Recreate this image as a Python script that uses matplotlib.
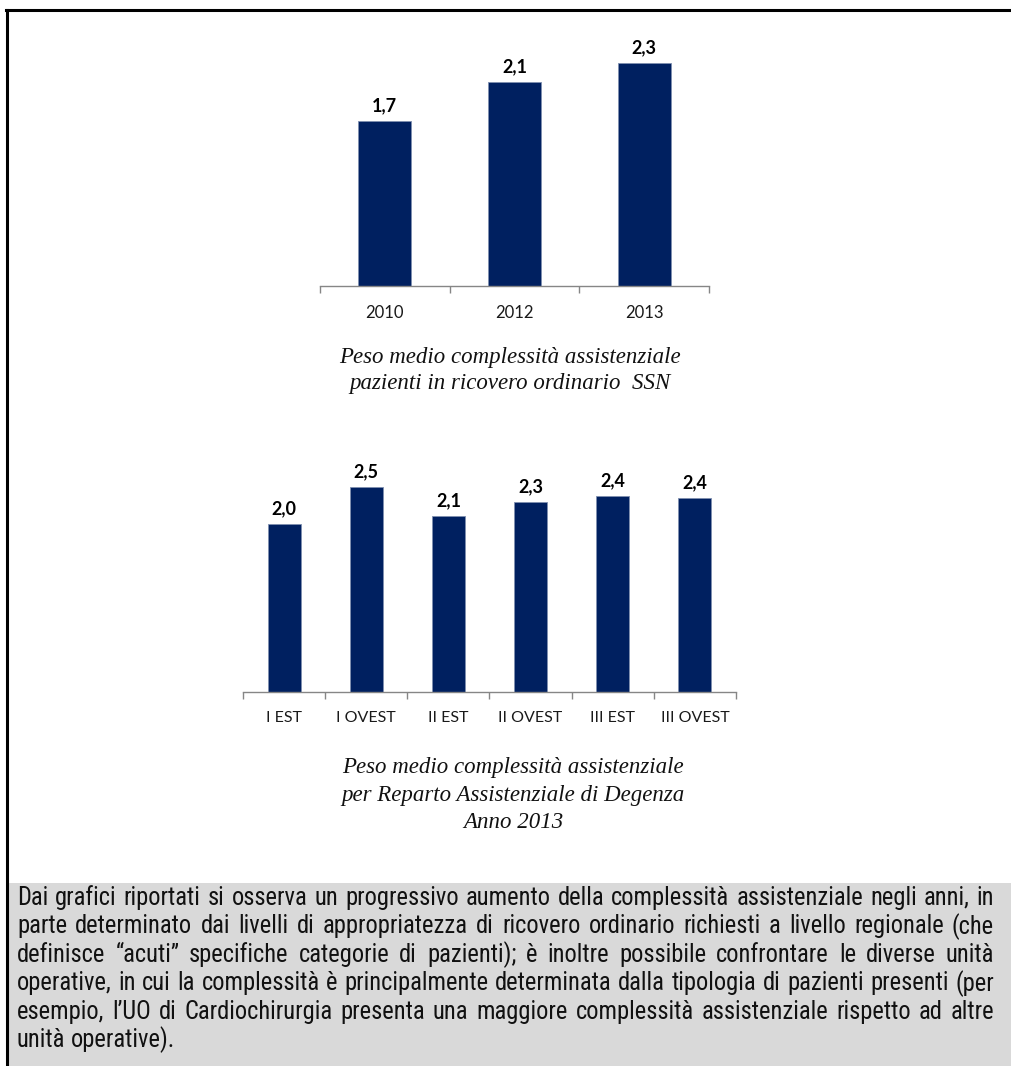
import numpy as np
import matplotlib
matplotlib.use("Agg")
import matplotlib.pyplot as plt
from matplotlib.patches import Rectangle
from matplotlib.lines import Line2D

# data
years = ["2010", "2012", "2013"]
peso_anni = [1.7, 2.1, 2.3]

reparti = ["I EST", "I OVEST", "II EST", "II OVEST", "III EST", "III OVEST"]
peso_reparti = [2.04, 2.49, 2.14, 2.31, 2.38, 2.36]

caption1 = ["Peso medio complessità assistenziale",
            "pazienti in ricovero ordinario  SSN"]
caption2 = ["Peso medio complessità assistenziale",
            "per Reparto Assistenziale di Degenza",
            "Anno 2013"]

paragraph = [
    "Dai grafici riportati si osserva un progressivo aumento della complessità assistenziale negli anni, in",
    "parte determinato dai livelli di appropriatezza di ricovero ordinario richiesti a livello regionale (che",
    "definisce “acuti” specifiche categorie di pazienti); è inoltre possibile confrontare le diverse unità",
    "operative, in cui la complessità è principalmente determinata dalla tipologia di pazienti presenti (per",
    "esempio, l’UO di Cardiochirurgia presenta una maggiore complessità assistenziale rispetto ad altre",
    "unità operative).",
]

BAR = "#002060"
AXIS = "#868686"
W, H = 1011, 1066

fig = plt.figure(figsize=(W / 100, H / 100), dpi=100)


def fx(px):
    return px / W


def fy(py):
    # py measured from the top of the picture
    return 1 - py / H


def bar_chart(rect, cats, vals, ymax, width, tick_size):
    ax = fig.add_axes(rect)
    x = np.arange(len(cats))
    bars = ax.bar(x, vals, width=width, color=BAR, edgecolor="#7f8fb0", linewidth=0.6)
    ax.bar_label(bars, labels=[f"{v:.1f}".replace(".", ",") for v in vals],
                 padding=5, fontsize=13, fontweight="bold", family=["Lato", "DejaVu Sans"])
    ax.set_xlim(-0.5, len(cats) - 0.5)
    ax.set_ylim(0, ymax)
    for s in ["top", "right", "left"]:
        ax.spines[s].set_visible(False)
    ax.spines["bottom"].set_color(AXIS)
    ax.spines["bottom"].set_linewidth(1)
    ax.set_yticks([])
    ax.set_xticks(x)
    ax.set_xticklabels(cats, fontsize=tick_size, family=["Lato", "DejaVu Sans"], color="#1a1a1a")
    ax.tick_params(axis="x", which="major", length=0, pad=14)
    ax.set_xticks(np.arange(len(cats) + 1) - 0.5, minor=True)
    ax.tick_params(axis="x", which="minor", length=5, color=AXIS, width=1)
    return ax


# chart 1: baseline at y=286, x from 320 to 709, 97 px per unit
bar_chart([fx(320), fy(286), fx(389), 2.6 * 97 / H], years, peso_anni, 2.6, 0.41, 12)
# chart 2: baseline at y=692, x from 243 to 736, ~82.3 px per unit
bar_chart([fx(243), fy(692), fx(493), 2.8 * 82.3 / H], reparti, peso_reparti, 2.8, 0.4, 11.5)

cap_font = dict(family=["Liberation Serif", "DejaVu Serif"], style="italic",
                fontsize=16.5, ha="center", va="center", color="#111111")
for i, line in enumerate(caption1):
    fig.text(fx(510), fy(357 + 27 * i), line, **cap_font)
for i, line in enumerate(caption2):
    fig.text(fx(513), fy(768 + 27 * i), line, **cap_font)

# grey note box and frame
fig.add_artist(Rectangle((fx(8), 0), 1 - fx(8), fy(883), transform=fig.transFigure,
                         facecolor="#d9d9d9", edgecolor="none", zorder=0))
fig.add_artist(Line2D([fx(7), fx(7)], [0, fy(10)], color="black", lw=2.2,
                      transform=fig.transFigure))
fig.add_artist(Line2D([fx(6), 1], [fy(10), fy(10)], color="black", lw=2.2,
                      transform=fig.transFigure))

# justified paragraph, font size fitted so the longest line fills the box
fig.canvas.draw()
r = fig.canvas.get_renderer()
x_left, x_right = 17, 994
para_font = dict(family=["Liberation Sans Narrow", "Roboto Condensed", "DejaVu Sans"],
                 va="center", ha="left", color="#111111")
probe = [fig.text(0, 0, line, fontsize=13, **para_font) for line in paragraph[:-1]]
longest = max(t.get_window_extent(r).width for t in probe)
for t in probe:
    t.remove()
size = 13 * (x_right - x_left) / longest * 0.985

for i, line in enumerate(paragraph):
    words = line.split()
    texts = [fig.text(0, fy(898 + 28.4 * i), w, fontsize=size, **para_font) for w in words]
    widths = [t.get_window_extent(r).width for t in texts]
    if i < len(paragraph) - 1:
        gap = (x_right - x_left - sum(widths)) / (len(words) - 1)
    else:
        gap = 5
    x = x_left
    for t, w in zip(texts, widths):
        t.set_x(fx(x))
        x += w + gap

fig.savefig("out.png", dpi=100)
